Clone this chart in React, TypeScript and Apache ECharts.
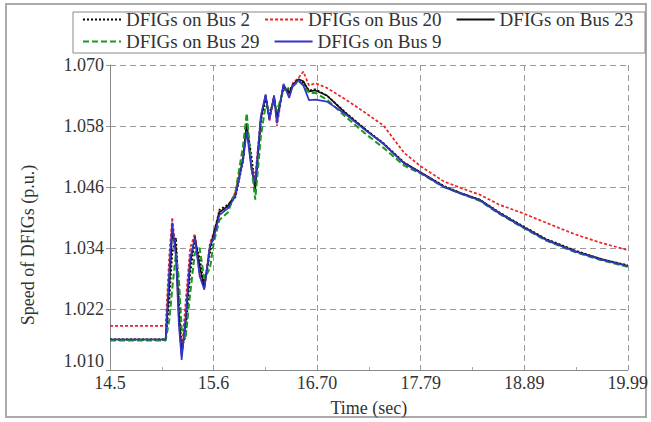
import React, { useEffect, useRef } from "react";
import * as echarts from "echarts";

// Shared time grid (sec)
const time = [
  14.5, 15.09, 15.13, 15.16, 15.2, 15.23, 15.26, 15.3, 15.35, 15.4, 15.45, 15.5,
  15.56, 15.6, 15.66, 15.75, 15.83, 15.91, 15.95, 16.0, 16.04, 16.1, 16.15, 16.19,
  16.24, 16.27, 16.34, 16.4, 16.44, 16.5, 16.55, 16.61, 16.68, 16.8, 17.0, 17.2,
  17.4, 17.62, 17.8, 18.04, 18.22, 18.42, 18.63, 18.87, 19.12, 19.43, 19.71, 19.99,
];

const bus2 = [
  1.016, 1.016, 1.024, 1.033, 1.036, 1.024, 1.014, 1.017, 1.029, 1.0355, 1.032, 1.0265,
  1.033, 1.0365, 1.0415, 1.0425, 1.044, 1.051, 1.058, 1.052, 1.046, 1.059, 1.0635, 1.06,
  1.0635, 1.06, 1.0655, 1.065, 1.066, 1.067, 1.0665, 1.065, 1.0652, 1.064, 1.0606, 1.0575,
  1.0546, 1.0508, 1.0488, 1.0462, 1.0448, 1.0435, 1.041, 1.0384, 1.0358, 1.0335, 1.0318, 1.0306,
];

const bus20 = [
  1.0187, 1.0187, 1.033, 1.04, 1.033, 1.02, 1.0135, 1.023, 1.034, 1.0368, 1.029, 1.0262,
  1.035, 1.037, 1.0412, 1.042, 1.045, 1.052, 1.0575, 1.05, 1.048, 1.06, 1.064, 1.059,
  1.064, 1.058, 1.066, 1.064, 1.0665, 1.0675, 1.0687, 1.066, 1.0664, 1.0655, 1.0632, 1.0607,
  1.0581, 1.0527, 1.05, 1.0471, 1.0458, 1.0445, 1.0425, 1.0409, 1.039, 1.0367, 1.035, 1.0336,
];

const bus23 = [
  1.016, 1.016, 1.027, 1.037, 1.034, 1.0215, 1.0128, 1.019, 1.031, 1.0362, 1.0305, 1.0262,
  1.034, 1.0368, 1.041, 1.0423, 1.0445, 1.0515, 1.0585, 1.05, 1.0455, 1.0595, 1.064, 1.0595,
  1.0638, 1.0595, 1.066, 1.0645, 1.0662, 1.0672, 1.0668, 1.0648, 1.065, 1.064, 1.0605, 1.0574,
  1.0545, 1.0507, 1.0488, 1.0461, 1.0448, 1.0435, 1.0409, 1.0383, 1.0357, 1.0334, 1.0318, 1.0305,
];

const bus29 = [
  1.0158, 1.0158, 1.02, 1.026, 1.033, 1.028, 1.018, 1.016, 1.025, 1.033, 1.034, 1.028,
  1.03, 1.035, 1.0395, 1.041, 1.045, 1.054, 1.0605, 1.05, 1.0435, 1.056, 1.062, 1.061,
  1.0625, 1.061, 1.065, 1.0655, 1.0658, 1.0668, 1.066, 1.0645, 1.0645, 1.0632, 1.0598, 1.0566,
  1.0537, 1.0502, 1.0486, 1.046, 1.0447, 1.0433, 1.0407, 1.0381, 1.0355, 1.0332, 1.0316, 1.0303,
];

const bus9 = [
  1.016, 1.016, 1.03, 1.039, 1.032, 1.019, 1.012, 1.02, 1.032, 1.036, 1.0285, 1.0258,
  1.0345, 1.036, 1.0405, 1.0418, 1.0442, 1.0512, 1.057, 1.0495, 1.047, 1.06, 1.0642, 1.0592,
  1.064, 1.0585, 1.0663, 1.0635, 1.066, 1.067, 1.066, 1.0631, 1.0632, 1.0628, 1.0603, 1.0573,
  1.0545, 1.0506, 1.0487, 1.046, 1.0447, 1.0434, 1.0408, 1.0382, 1.0356, 1.0333, 1.0317, 1.0304,
];

const xTickLabels = ["14.5", "15.6", "16.70", "17.79", "18.89", "19.99"];
const yTickLabels = ["1.010", "1.022", "1.034", "1.046", "1.058", "1.070"];

const X0 = 14.5;
const XSTEP = 1.098;
const Y0 = 1.01;
const YSTEP = 0.012;

const FONT = "'Liberation Serif', 'Times New Roman', serif";

function pairs(vals: number[]) {
  return time.map((t, i) => [+(t - X0).toFixed(4), +(vals[i] - Y0).toFixed(5)]);
}

export default function App() {
  const ref = useRef<HTMLDivElement>(null);
  useEffect(() => {
    if (!ref.current) return;
    const chart = echarts.init(ref.current, null, { renderer: "svg" });
    const mk = (name: string, vals: number[], color: string, type: any, width: number) => ({
      name,
      type: "line",
      data: pairs(vals),
      symbol: "none",
      showSymbol: false,
      lineStyle: { color, type, width },
      itemStyle: { color },
    });
    const legendCommon = {
      left: 82,
      padding: 0,
      itemGap: 14,
      itemWidth: 38,
      itemHeight: 12,
      itemStyle: { opacity: 0 },
      textStyle: { fontFamily: FONT, fontSize: 19, color: "#333" },
    };
    chart.setOption({
      animation: false,
      backgroundColor: "#fff",
      grid: { left: 110, right: 14, top: 65, bottom: 51 },
      legend: [
        {
          ...legendCommon,
          data: ["DFIGs on Bus 2", "DFIGs on Bus 20", "DFIGs on Bus 23"],
          top: 10,
        },
        {
          ...legendCommon,
          data: ["DFIGs on Bus 29", "DFIGs on Bus 9"],
          top: 32,
        },
      ],
      xAxis: {
        type: "value",
        min: 0,
        max: 5.49,
        interval: XSTEP,
        name: "Time (sec)",
        nameLocation: "middle",
        nameGap: 29,
        nameTextStyle: { fontFamily: FONT, fontSize: 18, color: "#333" },
        axisLine: { show: true, lineStyle: { color: "#888", width: 1 } },
        axisTick: { show: true, inside: true, length: 3, lineStyle: { color: "#999" } },
        minorTick: { show: true, splitNumber: 2, length: 3, lineStyle: { color: "#aaa" } },
        axisLabel: {
          fontFamily: FONT,
          fontSize: 18,
          color: "#333",
          margin: 4,
          formatter: (v: number) => xTickLabels[Math.round(v / XSTEP)] ?? "",
        },
        splitLine: { show: true, lineStyle: { color: "#999", type: [6, 4], width: 1 } },
      },
      yAxis: {
        type: "value",
        min: 0,
        max: 0.06,
        interval: YSTEP,
        axisLine: { show: true, lineStyle: { color: "#888", width: 1 } },
        axisTick: { show: true, length: 4, lineStyle: { color: "#999" } },
        axisLabel: {
          fontFamily: FONT,
          fontSize: 18,
          color: "#333",
          margin: 6,
          verticalAlignMinLabel: "bottom",
          formatter: (v: number) => yTickLabels[Math.round(v / YSTEP)] ?? "",
        },
        splitLine: { show: true, lineStyle: { color: "#999", type: [6, 4], width: 1 } },
      },
      graphic: [
        {
          type: "rect",
          shape: { x: 6, y: 4, width: 640, height: 413 },
          style: { fill: "none", stroke: "#aaa", lineWidth: 2 },
          silent: true,
          z: -1,
        },
        {
          type: "rect",
          shape: { x: 73, y: 12, width: 572, height: 41 },
          style: { fill: "none", stroke: "#888", lineWidth: 1 },
          silent: true,
        },
        {
          type: "text",
          x: 28,
          y: 245,
          rotation: Math.PI / 2,
          style: {
            text: "Speed of DFIGs (p.u.)",
            font: `18px ${FONT}`,
            fill: "#333",
            textAlign: "center",
            textVerticalAlign: "middle",
          },
        },
      ],
      series: [
        mk("DFIGs on Bus 2", bus2, "#000000", [2, 2], 1.8),
        mk("DFIGs on Bus 20", bus20, "#f02020", [3, 2], 1.7),
        mk("DFIGs on Bus 23", bus23, "#111111", "solid", 1.7),
        mk("DFIGs on Bus 29", bus29, "#1a9a1a", [6, 3], 2),
        mk("DFIGs on Bus 9", bus9, "#3535c8", "solid", 1.7),
      ],
    });
    return () => chart.dispose();
  }, []);
  return (
    <div
      ref={ref}
      style={{ position: "absolute", left: 0, top: 0, width: 651, height: 422, background: "#fff" }}
    />
  );
}
